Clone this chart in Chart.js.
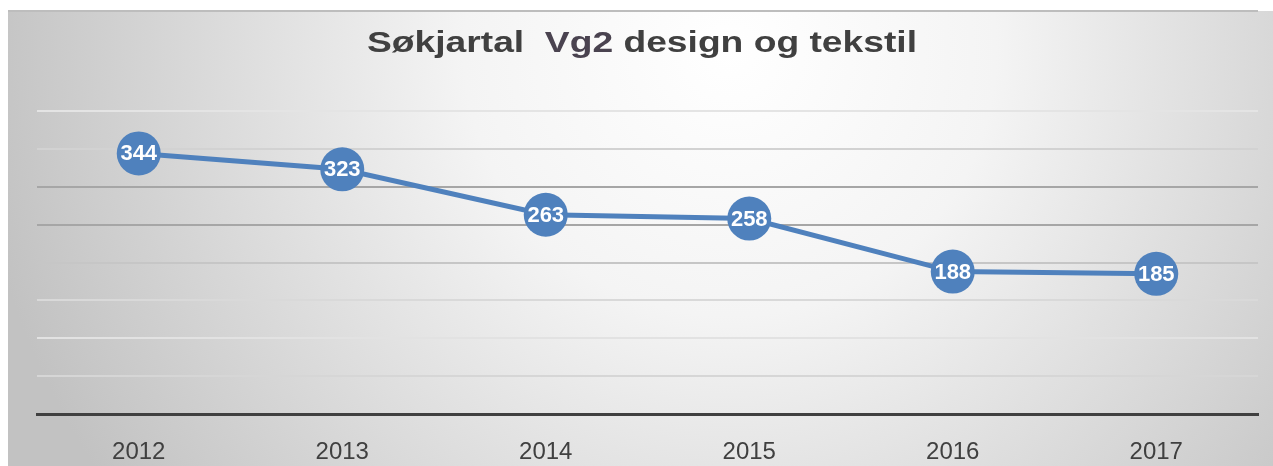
<!DOCTYPE html>
<html>
<head>
<meta charset="utf-8">
<script src="https://cdn.jsdelivr.net/npm/chart.js@4/dist/chart.umd.min.js"></script>
<style>
  html, body { margin: 0; padding: 0; background: #ffffff; }
  #wrap { width: 1273px; height: 466px; position: relative; }
</style>
</head>
<body>
<div id="wrap"><canvas id="chart"></canvas></div>
<script>
// Søkjartal per år
const years = ['2012', '2013', '2014', '2015', '2016', '2017'];
const applicants = [344, 323, 263, 258, 188, 185];
const titleParts = [
  { text: 'Søkjartal  ', color: '#404040' },
  { text: 'Vg2', color: '#4a4350' },
  { text: ' design og tekstil', color: '#404040' }
];

// Rutenett-farger (varierer litt som i originalen)
const gridColors = {
  0: 'rgba(0,0,0,0)',
  50: '#d6d6d6',
  100: '#e2e2e2',
  150: '#d9d9d9',
  200: '#c6c6c6',
  250: '#a6a6a6',
  300: '#a6a6a6',
  350: '#d2d2d2',
  400: '#e4e4e4'
};

const BLUE = '#4f81bd';
const FONT = '"Liberation Sans", Arial, Helvetica, sans-serif';

// Bakgrunn: grå boks med radial gradient
const backgroundPlugin = {
  id: 'bgBox',
  beforeDraw(chart) {
    const ctx = chart.ctx;
    const x0 = 8, y0 = 11, x1 = chart.width, y1 = chart.height;
    ctx.save();
    const g = ctx.createRadialGradient(730, 50, 0, 730, 50, 760);
    g.addColorStop(0, '#ffffff');
    g.addColorStop(0.35, '#f4f4f4');
    g.addColorStop(1, '#c2c2c2');
    ctx.fillStyle = g;
    ctx.fillRect(x0, y0, x1 - x0, y1 - y0);
    ctx.strokeStyle = '#bdbdbd';
    ctx.lineWidth = 2;
    ctx.beginPath();
    ctx.moveTo(x0, y0);
    ctx.lineTo(1258, y0);
    ctx.stroke();
    ctx.restore();
  }
};

// Tittel – litt breiare skrift enn vanleg, som i originalen
const titlePlugin = {
  id: 'wideTitle',
  afterDraw(chart) {
    const ctx = chart.ctx;
    ctx.save();
    ctx.font = 'bold 29px ' + FONT;
    ctx.textBaseline = 'alphabetic';
    ctx.textAlign = 'left';
    const full = titleParts.map(p => p.text).join('');
    const w = ctx.measureText(full).width;
    const targetW = 550;
    const sx = targetW / w;
    ctx.translate(367, 52);
    ctx.scale(sx, 1);
    let x = 0;
    titleParts.forEach(p => {
      ctx.fillStyle = p.color;
      ctx.fillText(p.text, x, 0);
      x += ctx.measureText(p.text).width;
    });
    ctx.restore();
  }
};

// Verdietiketter inne i punkta
const valueLabels = {
  id: 'valueLabels',
  afterDatasetsDraw(chart) {
    const ctx = chart.ctx;
    const meta = chart.getDatasetMeta(0);
    ctx.save();
    ctx.fillStyle = '#ffffff';
    ctx.font = 'bold 22px ' + FONT;
    ctx.textAlign = 'center';
    ctx.textBaseline = 'middle';
    meta.data.forEach((pt, i) => {
      const { x, y } = pt.getProps(['x', 'y'], true);
      ctx.fillText(String(applicants[i]), x, y + 1);
    });
    ctx.restore();
  }
};

new Chart(document.getElementById('chart'), {
  type: 'line',
  data: {
    labels: years,
    datasets: [{
      label: 'Søkjartal',
      data: applicants,
      borderColor: BLUE,
      borderWidth: 5,
      pointRadius: 22,
      pointHoverRadius: 22,
      pointBackgroundColor: BLUE,
      pointBorderWidth: 0,
      tension: 0,
      clip: false
    }]
  },
  options: {
    responsive: true,
    maintainAspectRatio: false,
    animation: false,
    layout: {
      autoPadding: false,
      padding: { left: 37, right: 15, top: 111, bottom: 0 }
    },
    plugins: {
      legend: { display: false },
      tooltip: { enabled: false },
      title: { display: false }
    },
    scales: {
      x: {
        offset: true,
        grid: { display: false, drawTicks: false },
        border: { display: true, color: '#404040', width: 3 },
        ticks: {
          color: '#404040',
          padding: 24,
          font: { family: FONT, size: 24 }
        },
        afterFit: (scale) => { scale.height = 52; }
      },
      y: {
        min: 0,
        max: 400,
        ticks: { display: false, stepSize: 50 },
        border: { display: false },
        grid: {
          drawTicks: false,
          lineWidth: 2,
          color: (c) => gridColors[c.tick.value] || '#d0d0d0'
        }
      }
    }
  },
  plugins: [backgroundPlugin, valueLabels, titlePlugin]
});
</script>
</body>
</html>
